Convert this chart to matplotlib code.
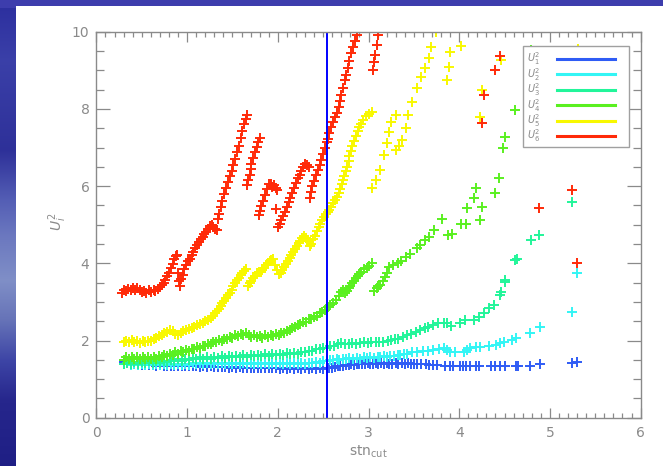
import numpy as np
import matplotlib
matplotlib.use("Agg")
import matplotlib.pyplot as plt
from matplotlib.patches import Rectangle
from matplotlib.ticker import MultipleLocator

# ---- U_1^2 ----
u1_x = [0.30, 0.34, 0.38, 0.42, 0.46, 0.50, 0.54, 0.58, 0.62, 0.66, 0.70, 0.74, 0.78, 0.82,
        0.86, 0.90, 0.94, 0.98, 1.02, 1.06, 1.10, 1.14, 1.18, 1.22, 1.26, 1.30, 1.34, 1.38,
        1.42, 1.46, 1.50, 1.54, 1.58, 1.62, 1.66, 1.70, 1.74, 1.78, 1.82, 1.86, 1.90, 1.94,
        1.98, 2.02, 2.06, 2.10, 2.14, 2.18, 2.22, 2.26, 2.30, 2.34, 2.38, 2.42, 2.46, 2.50,
        2.54, 2.57, 2.60, 2.63, 2.66, 2.69, 2.72, 2.75, 2.78, 2.81, 2.84, 2.87, 2.90, 2.93,
        2.96, 2.99, 3.02, 3.05, 3.08, 3.11, 3.14, 3.17, 3.20, 3.23, 3.26, 3.30, 3.33, 3.37,
        3.40, 3.44, 3.47, 3.50, 3.53, 3.58, 3.63, 3.67, 3.71, 3.76, 3.84, 3.90, 3.93, 4.01,
        4.04, 4.08, 4.12, 4.18, 4.22, 4.35, 4.39, 4.45, 4.51, 4.63, 4.65, 4.78, 4.89, 5.24,
        5.30]
u1_y = [1.44, 1.41, 1.40, 1.39, 1.38, 1.37, 1.37, 1.36, 1.36, 1.35, 1.36, 1.35, 1.35, 1.34,
        1.35, 1.34, 1.34, 1.33, 1.34, 1.33, 1.34, 1.32, 1.33, 1.32, 1.33, 1.31, 1.32, 1.31,
        1.32, 1.30, 1.31, 1.30, 1.31, 1.29, 1.30, 1.29, 1.30, 1.28, 1.30, 1.28, 1.29, 1.28,
        1.29, 1.27, 1.28, 1.27, 1.28, 1.27, 1.28, 1.27, 1.28, 1.27, 1.28, 1.27, 1.28, 1.27,
        1.28, 1.29, 1.30, 1.32, 1.33, 1.35, 1.35, 1.37, 1.36, 1.38, 1.37, 1.39, 1.38, 1.40,
        1.39, 1.41, 1.40, 1.39, 1.41, 1.40, 1.42, 1.40, 1.41, 1.39, 1.40, 1.41, 1.39, 1.41,
        1.40, 1.42, 1.39, 1.40, 1.39, 1.38, 1.39, 1.36, 1.36, 1.36, 1.35, 1.34, 1.34, 1.34,
        1.34, 1.34, 1.34, 1.34, 1.34, 1.34, 1.34, 1.34, 1.34, 1.34, 1.35, 1.34, 1.39, 1.41,
        1.45]

# ---- U_2^2 ----
u2_x = [0.30, 0.34, 0.38, 0.42, 0.46, 0.50, 0.54, 0.58, 0.62, 0.66, 0.70, 0.74, 0.78, 0.82,
        0.86, 0.90, 0.94, 0.98, 1.02, 1.06, 1.10, 1.14, 1.18, 1.22, 1.26, 1.30, 1.34, 1.38,
        1.42, 1.46, 1.50, 1.54, 1.58, 1.62, 1.66, 1.70, 1.74, 1.78, 1.82, 1.86, 1.90, 1.94,
        1.98, 2.02, 2.06, 2.10, 2.14, 2.18, 2.22, 2.26, 2.30, 2.34, 2.38, 2.42, 2.46, 2.50,
        2.54, 2.58, 2.61, 2.65, 2.68, 2.72, 2.75, 2.79, 2.83, 2.87, 2.91, 2.95, 2.98, 3.02,
        3.06, 3.10, 3.13, 3.17, 3.20, 3.24, 3.28, 3.32, 3.35, 3.39, 3.42, 3.48, 3.53, 3.60,
        3.66, 3.71, 3.78, 3.83, 3.87, 3.90, 3.95, 4.05, 4.09, 4.12, 4.18, 4.23, 4.33, 4.41,
        4.45, 4.49, 4.58, 4.63, 4.78, 4.89, 5.24, 5.30]
u2_y = [1.38, 1.41, 1.37, 1.40, 1.36, 1.39, 1.36, 1.39, 1.36, 1.39, 1.36, 1.39, 1.36, 1.39,
        1.37, 1.40, 1.37, 1.40, 1.37, 1.41, 1.38, 1.41, 1.38, 1.41, 1.38, 1.41, 1.38, 1.41,
        1.38, 1.41, 1.38, 1.41, 1.38, 1.42, 1.38, 1.42, 1.38, 1.42, 1.39, 1.42, 1.39, 1.42,
        1.39, 1.42, 1.39, 1.42, 1.39, 1.42, 1.39, 1.43, 1.40, 1.43, 1.41, 1.44, 1.43, 1.46,
        1.46, 1.49, 1.49, 1.52, 1.50, 1.53, 1.51, 1.54, 1.52, 1.55, 1.53, 1.56, 1.54, 1.57,
        1.55, 1.58, 1.57, 1.59, 1.58, 1.61, 1.60, 1.63, 1.62, 1.65, 1.66, 1.70, 1.71, 1.72,
        1.73, 1.75, 1.77, 1.80, 1.76, 1.71, 1.70, 1.71, 1.76, 1.80, 1.82, 1.84, 1.86, 1.88,
        1.93, 1.97, 2.02, 2.06, 2.19, 2.36, 2.75, 3.74]

# ---- U_3^2 ----
u3_x = [0.30, 0.34, 0.38, 0.42, 0.46, 0.50, 0.54, 0.58, 0.62, 0.66, 0.70, 0.74, 0.78, 0.82,
        0.86, 0.90, 0.94, 0.98, 1.02, 1.06, 1.10, 1.14, 1.18, 1.22, 1.26, 1.30, 1.34, 1.38,
        1.42, 1.46, 1.50, 1.54, 1.58, 1.62, 1.66, 1.70, 1.74, 1.78, 1.82, 1.86, 1.90, 1.94,
        1.98, 2.02, 2.06, 2.10, 2.14, 2.18, 2.22, 2.26, 2.30, 2.34, 2.38, 2.42, 2.46, 2.50,
        2.54, 2.58, 2.62, 2.66, 2.70, 2.74, 2.78, 2.82, 2.86, 2.91, 2.95, 2.99, 3.03, 3.08,
        3.12, 3.16, 3.21, 3.25, 3.29, 3.33, 3.38, 3.42, 3.47, 3.52, 3.57, 3.62, 3.66, 3.71,
        3.77, 3.83, 3.86, 3.91, 4.01, 4.06, 4.16, 4.22, 4.27, 4.33, 4.38, 4.45, 4.46, 4.50,
        4.51, 4.62, 4.64, 4.79, 4.88, 5.24, 5.31]
u3_y = [1.38, 1.43, 1.39, 1.44, 1.40, 1.45, 1.41, 1.46, 1.42, 1.46, 1.43, 1.47, 1.44, 1.49,
        1.46, 1.51, 1.48, 1.53, 1.49, 1.54, 1.51, 1.56, 1.52, 1.57, 1.53, 1.58, 1.54, 1.59,
        1.55, 1.60, 1.56, 1.61, 1.57, 1.62, 1.58, 1.63, 1.59, 1.63, 1.60, 1.64, 1.61, 1.65,
        1.62, 1.66, 1.63, 1.67, 1.64, 1.68, 1.66, 1.70, 1.69, 1.73, 1.72, 1.77, 1.77, 1.81,
        1.80, 1.85, 1.86, 1.91, 1.93, 1.92, 1.90, 1.93, 1.91, 1.93, 1.95, 1.93, 1.96, 1.97,
        1.95, 1.97, 1.99, 2.01, 2.03, 2.05, 2.10, 2.14, 2.18, 2.22, 2.27, 2.32, 2.35, 2.40,
        2.45, 2.46, 2.45, 2.38, 2.45, 2.52, 2.53, 2.62, 2.70, 2.85, 2.92, 3.18, 3.26, 3.52,
        3.57, 4.08, 4.10, 4.60, 4.73, 5.60, 7.52]

# ---- U_4^2 ----
u4_x = [0.30, 0.33, 0.36, 0.39, 0.42, 0.45, 0.48, 0.51, 0.54, 0.57, 0.60, 0.63, 0.66, 0.69,
        0.72, 0.75, 0.78, 0.81, 0.84, 0.87, 0.90, 0.93, 0.96, 0.99, 1.02, 1.05, 1.08, 1.11,
        1.14, 1.17, 1.20, 1.23, 1.26, 1.29, 1.32, 1.35, 1.38, 1.41, 1.44, 1.47, 1.50, 1.53,
        1.56, 1.59, 1.62, 1.65, 1.68, 1.71, 1.74, 1.77, 1.80, 1.83, 1.86, 1.89, 1.92, 1.95,
        1.98, 2.01, 2.04, 2.07, 2.10, 2.13, 2.16, 2.19, 2.22, 2.25, 2.28, 2.31, 2.34, 2.37,
        2.40, 2.43, 2.46, 2.49, 2.52, 2.55, 2.58, 2.61, 2.64, 2.67, 2.70, 2.72, 2.74, 2.76,
        2.78, 2.80, 2.82, 2.84, 2.86, 2.88, 2.90, 2.92, 2.95, 2.98, 3.01, 3.04, 3.06, 3.09,
        3.11, 3.13, 3.16, 3.18, 3.20, 3.23, 3.27, 3.32, 3.36, 3.41, 3.46, 3.53, 3.57, 3.62,
        3.67, 3.72, 3.81, 3.88, 3.92, 4.02, 4.07, 4.09, 4.16, 4.18, 4.23, 4.25, 4.39, 4.44,
        4.48, 4.51, 4.62, 4.79, 4.90, 5.23]
u4_y = [1.50, 1.57, 1.51, 1.58, 1.52, 1.58, 1.51, 1.57, 1.52, 1.58, 1.51, 1.57, 1.53, 1.59,
        1.56, 1.62, 1.60, 1.66, 1.63, 1.69, 1.66, 1.72, 1.70, 1.76, 1.73, 1.79, 1.77, 1.83,
        1.81, 1.87, 1.85, 1.92, 1.90, 1.97, 1.95, 2.01, 1.99, 2.05, 2.03, 2.09, 2.07, 2.13,
        2.11, 2.17, 2.14, 2.19, 2.13, 2.10, 2.14, 2.08, 2.12, 2.07, 2.13, 2.09, 2.15, 2.11,
        2.17, 2.14, 2.20, 2.19, 2.25, 2.26, 2.32, 2.34, 2.40, 2.42, 2.48, 2.49, 2.55, 2.56,
        2.62, 2.63, 2.70, 2.74, 2.80, 2.86, 2.92, 2.98, 3.05, 3.15, 3.25, 3.30, 3.24, 3.28,
        3.35, 3.42, 3.48, 3.55, 3.62, 3.68, 3.73, 3.78, 3.84, 3.88, 3.94, 4.00, 3.28, 3.35,
        3.40, 3.45, 3.55, 3.65, 3.75, 3.91, 3.95, 4.00, 4.05, 4.17, 4.25, 4.39, 4.48, 4.60,
        4.68, 4.86, 5.16, 4.73, 4.75, 5.03, 5.03, 5.42, 5.68, 5.94, 5.12, 5.47, 5.81, 6.20,
        6.98, 7.28, 7.97, 9.53, 7.70, 8.68]

# ---- U_5^2 ----
u5_x = [0.30, 0.33, 0.36, 0.39, 0.42, 0.45, 0.48, 0.51, 0.54, 0.57, 0.60, 0.63, 0.66, 0.69,
        0.72, 0.75, 0.78, 0.81, 0.84, 0.87, 0.90, 0.93, 0.96, 0.99, 1.02, 1.05, 1.08, 1.11,
        1.14, 1.17, 1.20, 1.23, 1.26, 1.29, 1.31, 1.33, 1.35, 1.37, 1.39, 1.41, 1.43, 1.45,
        1.47, 1.49, 1.51, 1.53, 1.55, 1.57, 1.59, 1.61, 1.63, 1.65, 1.67, 1.69, 1.71, 1.73,
        1.75, 1.77, 1.79, 1.81, 1.83, 1.85, 1.87, 1.89, 1.91, 1.93, 1.95, 1.97, 1.99, 2.01,
        2.03, 2.05, 2.07, 2.09, 2.11, 2.13, 2.15, 2.17, 2.19, 2.21, 2.23, 2.25, 2.27, 2.29,
        2.31, 2.33, 2.35, 2.37, 2.39, 2.41, 2.43, 2.45, 2.47, 2.49, 2.51, 2.53, 2.55, 2.57,
        2.59, 2.61, 2.63, 2.65, 2.67, 2.69, 2.71, 2.72, 2.73, 2.75, 2.76, 2.78, 2.79, 2.81,
        2.82, 2.84, 2.86, 2.88, 2.90, 2.92, 2.94, 2.97, 3.00, 3.04,
        3.04, 3.08, 3.13, 3.17, 3.20, 3.23, 3.25, 3.30, 3.30, 3.34, 3.37, 3.41, 3.44, 3.48,
        3.53, 3.58, 3.62, 3.67, 3.69, 3.74, 3.86, 3.89, 3.90, 4.02, 4.23, 4.25, 4.46, 4.90,
        5.24, 5.31]
u5_y = [1.95, 2.00, 1.96, 2.01, 1.95, 2.00, 1.94, 1.99, 1.95, 2.00, 1.98, 2.03, 2.07, 2.12,
        2.15, 2.20, 2.22, 2.28, 2.24, 2.18, 2.14, 2.20, 2.24, 2.27, 2.30, 2.32, 2.36, 2.40,
        2.42, 2.46, 2.50, 2.54, 2.58, 2.64, 2.70, 2.76, 2.82, 2.90, 2.96, 3.03, 3.10, 3.17,
        3.24, 3.32, 3.40, 3.48, 3.56, 3.63, 3.70, 3.76, 3.80, 3.86, 3.42, 3.48, 3.55, 3.62,
        3.68, 3.74, 3.78, 3.78, 3.82, 3.88, 3.95, 4.00, 4.05, 4.08, 4.10, 3.95, 3.82, 3.72,
        3.76, 3.82, 3.90, 3.98, 4.06, 4.14, 4.22, 4.30, 4.38, 4.45, 4.52, 4.58, 4.65, 4.70,
        4.66, 4.58, 4.45, 4.50, 4.62, 4.72, 4.83, 4.93, 5.03, 5.12, 5.20, 5.27, 5.32, 5.38,
        5.46, 5.55, 5.64, 5.73, 5.82, 5.92, 6.05, 6.15, 6.25, 6.38, 6.50, 6.66, 6.78, 6.92,
        7.05, 7.18, 7.30, 7.42, 7.54, 7.62, 7.70, 7.82, 7.88, 7.93,
        5.94, 6.15, 6.42, 6.80, 7.11, 7.40, 7.67, 7.84, 6.93, 7.05, 7.19, 7.50, 7.84, 8.19,
        8.53, 8.83, 9.05, 9.31, 9.61, 10.0, 8.75, 9.09, 9.48, 9.63, 7.80, 8.49, 9.27, 8.50,
        9.40, 9.55]

# ---- U_6^2 ----
u6_x = [0.28, 0.30, 0.33, 0.35, 0.38, 0.40, 0.43, 0.45, 0.48, 0.50, 0.53, 0.55, 0.58, 0.60,
        0.63, 0.65, 0.68, 0.70, 0.72, 0.74, 0.76, 0.78, 0.80, 0.82, 0.84, 0.86, 0.88, 0.89,
        0.90, 0.91, 0.92, 0.93, 0.95, 0.97, 0.99, 1.01, 1.03, 1.05, 1.07, 1.09, 1.11, 1.13,
        1.15, 1.17, 1.19, 1.21, 1.23, 1.25, 1.27, 1.29, 1.31, 1.33, 1.34, 1.35, 1.37, 1.39,
        1.41, 1.43, 1.45, 1.47, 1.49, 1.51, 1.53, 1.55, 1.57, 1.59, 1.61, 1.63, 1.65, 1.66,
        1.66, 1.67, 1.69, 1.70, 1.71, 1.73, 1.75, 1.77, 1.78, 1.80,
        1.79, 1.80, 1.82, 1.84, 1.86, 1.88, 1.90, 1.92, 1.94, 1.96, 1.98, 1.99, 1.98,
        2.00, 2.02, 2.04, 2.06, 2.08, 2.10, 2.12, 2.14, 2.16, 2.18, 2.20, 2.22, 2.24, 2.26,
        2.28, 2.30, 2.32, 2.34,
        2.36, 2.37, 2.38, 2.40, 2.42, 2.44, 2.46, 2.48, 2.50, 2.52, 2.54, 2.55, 2.57, 2.59,
        2.61, 2.63, 2.65, 2.67, 2.69, 2.70, 2.72, 2.74, 2.75, 2.77, 2.79, 2.81, 2.83, 2.85,
        2.87, 3.05, 3.06, 3.07, 3.09, 3.11, 4.25, 4.27, 4.39, 4.45, 4.88, 5.24, 5.30]
u6_y = [3.24, 3.30, 3.27, 3.33, 3.30, 3.36, 3.32, 3.37, 3.30, 3.25, 3.29, 3.24, 3.30, 3.26,
        3.31, 3.28, 3.34, 3.38, 3.45, 3.50, 3.58, 3.66, 3.75, 3.88, 3.98, 4.10, 4.18, 4.22,
        3.75, 3.55, 3.40, 3.60, 3.70, 3.85, 3.95, 4.05, 4.12, 4.22, 4.30, 4.40, 4.48, 4.55,
        4.62, 4.68, 4.75, 4.82, 4.90, 4.96, 5.00, 4.93, 4.88, 4.85, 5.15, 5.28, 5.45, 5.62,
        5.80, 5.95, 6.10, 6.25, 6.40, 6.55, 6.70, 6.88, 7.05, 7.25, 7.42, 7.60, 7.75, 7.84,
        6.03, 6.15, 6.30, 6.45, 6.58, 6.72, 6.88, 7.02, 7.15, 7.25,
        5.25, 5.35, 5.48, 5.62, 5.78, 5.92, 6.05, 6.05, 5.98, 6.02, 5.95, 5.90, 5.40,
        4.95, 5.02, 5.12, 5.22, 5.32, 5.45, 5.58, 5.70, 5.82, 5.95, 6.08, 6.20, 6.30, 6.40,
        6.50, 6.58, 6.55, 6.50,
        5.70, 5.85, 6.00, 6.12, 6.28, 6.42, 6.55, 6.68, 6.82, 6.98, 7.15, 7.22, 7.38, 7.54,
        7.66, 7.78, 7.90, 8.05, 8.20, 8.35, 8.55, 8.75, 8.88, 9.05, 9.25, 9.45, 9.60, 9.75,
        9.92, 9.00, 9.22, 9.40, 9.66, 9.91, 7.63, 8.36, 9.02, 9.38, 5.42, 5.90, 4.00]

series_labels = [r"$U_1^2$", r"$U_2^2$", r"$U_3^2$", r"$U_4^2$", r"$U_5^2$", r"$U_6^2$"]
series_x = [u1_x, u2_x, u3_x, u4_x, u5_x, u6_x]
series_y = [u1_y, u2_y, u3_y, u4_y, u5_y, u6_y]
colors = ["#2f5cf5", "#33f5f5", "#22f59a", "#5af020", "#f8f800", "#ff2a08"]

stn_cut_mark = 2.54

W, H = 663, 466
fig = plt.figure(figsize=(W / 100, H / 100), dpi=100)
fig.patch.set_facecolor("white")

# slide backdrop: blue gradient strip on the left and along the top
bg = fig.add_axes([0, 0, 1, 1], zorder=-10)
stops_y = [0, 60, 150, 200, 235, 280, 320, 360, 400, 466]
stops_r = [0.17, 0.23, 0.18, 0.33, 0.42, 0.50, 0.40, 0.24, 0.15, 0.12]
stops_g = [0.18, 0.25, 0.19, 0.37, 0.47, 0.56, 0.45, 0.27, 0.15, 0.12]
stops_b = [0.62, 0.66, 0.60, 0.71, 0.75, 0.78, 0.72, 0.65, 0.55, 0.52]
rows = np.arange(H)
col = np.stack([np.interp(rows, stops_y, stops_r),
                np.interp(rows, stops_y, stops_g),
                np.interp(rows, stops_y, stops_b)], axis=1)
img = np.repeat(col[:, None, :], W, axis=1)
img[:8, :, :] = np.array([0.24, 0.24, 0.68])
bg.imshow(img, aspect="auto", extent=[0, W, H, 0], interpolation="bilinear")
bg.add_patch(Rectangle((16, 6), W - 16, H - 6, facecolor="white", edgecolor="none"))
bg.set_xlim(0, W)
bg.set_ylim(H, 0)
bg.axis("off")

grey = "#8a8a8a"
ax = fig.add_axes([96.4 / W, (H - 417.7) / H, 544.2 / W, 386.0 / H])
ax.set_facecolor("none")

for xs, ys, c in zip(series_x, series_y, colors):
    ax.plot(xs, ys, linestyle="none", marker="+", markersize=7, mew=1.4, color=c)

ax.axvline(stn_cut_mark, color="#0000ff", lw=1.4)

ax.set_xlim(0, 6)
ax.set_ylim(0, 10)
ax.xaxis.set_major_locator(MultipleLocator(1))
ax.xaxis.set_minor_locator(MultipleLocator(0.1))
ax.yaxis.set_major_locator(MultipleLocator(2))
ax.yaxis.set_minor_locator(MultipleLocator(0.5))
ax.tick_params(which="both", direction="in", top=True, right=True, colors=grey,
               labelcolor=grey, width=0.9, labelsize=10)
ax.tick_params(axis="x", which="major", length=7, pad=6)
ax.tick_params(axis="x", which="minor", length=3.5)
ax.tick_params(axis="y", which="major", length=10, pad=5)
ax.tick_params(axis="y", which="minor", length=6)
for sp in ax.spines.values():
    sp.set_color(grey)
    sp.set_linewidth(1.0)

fig.text(368 / W, 1 - 452 / H, r"stn$_{\rm cut}$", color=grey, fontsize=10,
         ha="center", va="center")
fig.text(58 / W, 1 - 222 / H, r"$U_i^2$", color=grey, fontsize=10,
         ha="center", va="center", rotation=90)

# legend box: labels on the left, line samples on the right
ax.add_patch(Rectangle((0.784, 0.701), 0.195, 0.262, transform=ax.transAxes,
                       facecolor="white", edgecolor="#a0a0a0", lw=1.0, zorder=5))
for i, (lab, c) in enumerate(zip(series_labels, colors)):
    yl = (417.7 - (59 + i * 15.4)) / 386.0
    ax.plot([(557 - 96.4) / 544.2, (615 - 96.4) / 544.2], [yl, yl], color=c, lw=2.2,
            transform=ax.transAxes, zorder=6)
    ax.text((527 - 96.4) / 544.2, yl, lab, color=grey, fontsize=7, ha="left",
            va="center", transform=ax.transAxes, zorder=6)

fig.savefig("out.png", dpi=100)
